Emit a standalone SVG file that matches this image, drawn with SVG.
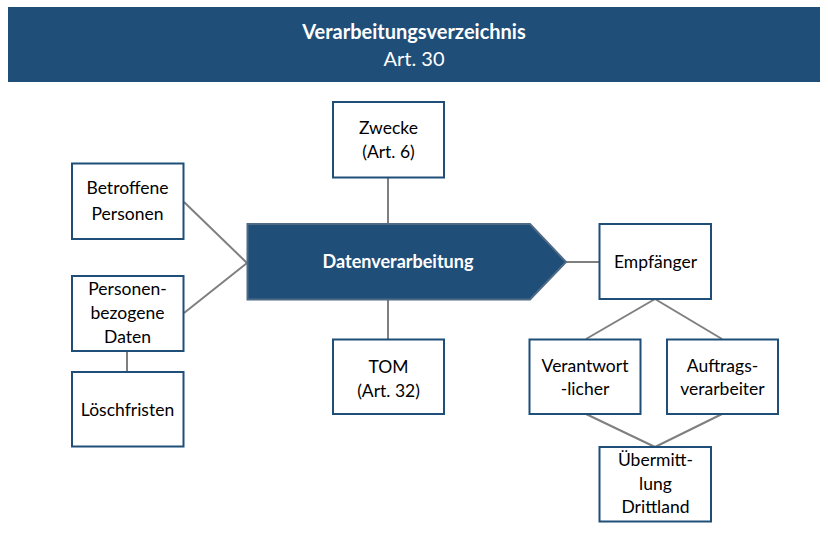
<svg xmlns="http://www.w3.org/2000/svg" width="828" height="537" viewBox="0 0 828 537">
<style>
.box{fill:#fff;stroke:#1F4E79;stroke-width:2}
.t{font-family:Lato,"Liberation Sans",sans-serif;font-size:17.5px;fill:#000;text-anchor:middle}
.w{font-family:Lato,"Liberation Sans",sans-serif;fill:#fff;text-anchor:middle}
.c{stroke:#7F7F7F;stroke-width:2;fill:none}
</style>
<rect width="828" height="537" fill="#fff"/>
<g id="header">
<rect x="8" y="7" width="812" height="75" fill="#1F4E79"/>
<text class="w" x="414" y="39" font-size="20" font-weight="bold">Verarbeitungsverzeichnis</text>
<text class="w" x="414" y="66" font-size="20">Art. 30</text>
</g>
<g id="connectors">
<line class="c" x1="388" y1="178" x2="388" y2="224"/>
<line class="c" x1="388" y1="300" x2="388" y2="340"/>
<line class="c" x1="184" y1="202" x2="247" y2="263"/>
<line class="c" x1="184" y1="313" x2="247" y2="263"/>
<line class="c" x1="127" y1="351" x2="127" y2="372"/>
<line class="c" x1="566" y1="262" x2="599" y2="262"/>
<line class="c" x1="655" y1="299" x2="586" y2="339"/>
<line class="c" x1="655" y1="299" x2="722" y2="339"/>
<line class="c" x1="586" y1="414" x2="655" y2="447"/>
<line class="c" x1="722" y1="414" x2="655" y2="447"/>
</g>
<g id="datenverarbeitung">
<polygon points="247.5,224 530,224 566,262 530,299.5 247.5,299.5" fill="#1F4E79" stroke="#4F6A85" stroke-width="2"/>
<text class="w" x="398" y="268" font-size="18" font-weight="bold">Datenverarbeitung</text>
</g>
<g id="zwecke">
<rect class="box" x="333" y="102" width="111" height="75.5"/>
<text class="t" x="388.5" y="134">Zwecke</text>
<text class="t" x="388.5" y="158">(Art. 6)</text>
</g>
<g id="tom">
<rect class="box" x="333" y="339.5" width="111" height="74.5"/>
<text class="t" x="388.5" y="373">TOM</text>
<text class="t" x="388.5" y="397">(Art. 32)</text>
</g>
<g id="betroffene">
<rect class="box" x="72" y="163.5" width="111.5" height="75.5"/>
<text class="t" x="127.5" y="194">Betroffene</text>
<text class="t" x="127.5" y="220">Personen</text>
</g>
<g id="personendaten">
<rect class="box" x="72" y="276" width="111.5" height="75"/>
<text class="t" x="127.5" y="295">Personen-</text>
<text class="t" x="127.5" y="319">bezogene</text>
<text class="t" x="127.5" y="343">Daten</text>
</g>
<g id="loeschfristen">
<rect class="box" x="72" y="372" width="111.5" height="74.5"/>
<text class="t" x="127.5" y="416">Löschfristen</text>
</g>
<g id="empfaenger">
<rect class="box" x="599.5" y="224" width="111.5" height="75"/>
<text class="t" x="655.5" y="268">Empfänger</text>
</g>
<g id="verantwortlicher">
<rect class="box" x="529.5" y="339.5" width="111" height="74.5"/>
<text class="t" x="585" y="372">Verantwort</text>
<text class="t" x="585" y="395">-licher</text>
</g>
<g id="auftragsverarbeiter">
<rect class="box" x="667" y="339.5" width="111" height="74.5"/>
<text class="t" x="722.5" y="372">Auftrags-</text>
<text class="t" x="722.5" y="395">verarbeiter</text>
</g>
<g id="uebermittlung">
<rect class="box" x="599.5" y="447" width="111.5" height="74.5"/>
<text class="t" x="655.5" y="466">Übermitt-</text>
<text class="t" x="655.5" y="490">lung</text>
<text class="t" x="655.5" y="513">Drittland</text>
</g>
</svg>
